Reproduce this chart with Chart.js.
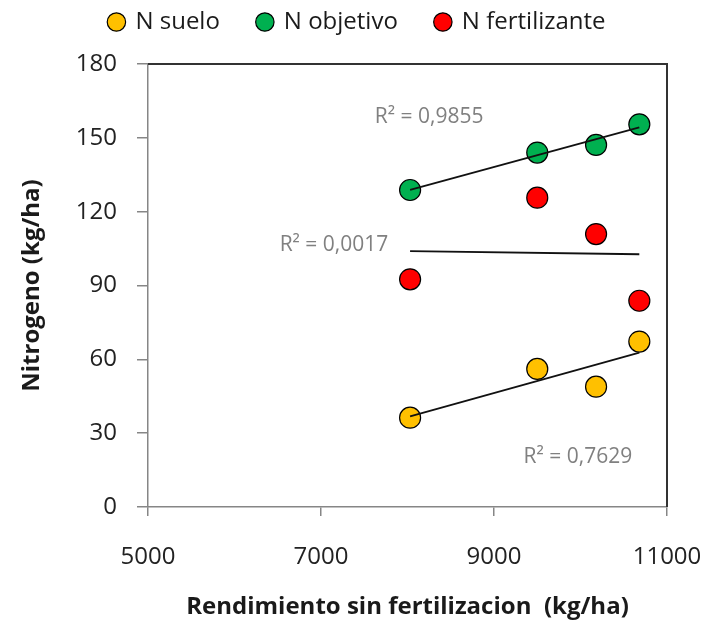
<!DOCTYPE html>
<html>
<head>
<meta charset="utf-8">
<script src="https://cdn.jsdelivr.net/npm/chart.js@4.4.1/dist/chart.umd.min.js"></script>
<style>
html, body { margin: 0; padding: 0; background: #fff; }
#wrap { width: 715px; height: 624px; }
</style>
</head>
<body>
<div id="wrap"><canvas id="chart"></canvas></div>
<script>
// datos
const rendimiento = [8030, 9500, 10180, 10680];
const nSuelo = [36.3, 56.1, 48.9, 67.2];
const nObjetivo = [128.8, 144.0, 147.1, 155.5];
const nFertilizante = [92.5, 125.7, 110.9, 83.8];
const seriesNames = ['N suelo', 'N objetivo', 'N fertilizante'];
const xTicks = [5000, 7000, 9000, 11000];
const yTicks = [0, 30, 60, 90, 120, 150, 180];
const r2Labels = ['R² = 0,7629', 'R² = 0,9855', 'R² = 0,0017'];

// donde van los textos R² (en unidades del grafico)
const r2Pos = [[9970, 20.2], [8250, 158.6], [7150, 106.5]];
const colores = ['#FFC000', '#00B050', '#FF0000'];

Chart.defaults.font.family = "'Open Sans', sans-serif";
Chart.defaults.color = '#1e1e1e';

const puntos = ys => rendimiento.map((x, i) => ({ x: x, y: ys[i] }));

// recta de tendencia lineal
function tendencia(ys) {
    const n = rendimiento.length;
    const mx = rendimiento.reduce((a, b) => a + b, 0) / n;
    const my = ys.reduce((a, b) => a + b, 0) / n;
    let sxy = 0, sxx = 0;
    rendimiento.forEach((x, i) => {
        sxy += (x - mx) * (ys[i] - my);
        sxx += (x - mx) * (x - mx);
    });
    const b = sxy / sxx;
    const x0 = Math.min(...rendimiento), x1 = Math.max(...rendimiento);
    return [{ x: x0, y: my + b * (x0 - mx) }, { x: x1, y: my + b * (x1 - mx) }];
}

const series = [nSuelo, nObjetivo, nFertilizante];
const datasets = [];
series.forEach((ys, i) => {
    datasets.push({
        label: seriesNames[i],
        data: puntos(ys),
        backgroundColor: colores[i],
        borderColor: '#000',
        borderWidth: 1.2,
        pointRadius: 10.5,
        order: 1
    });
});
series.forEach(ys => {
    datasets.push({
        type: 'line',
        data: tendencia(ys),
        borderColor: '#111',
        borderWidth: 1.8,
        pointRadius: 0,
        fill: false,
        order: 0
    });
});

// marco superior y derecho + textos R²
const extras = {
    id: 'extras',
    afterInit(chart) {
        const fit = chart.legend.fit;
        chart.legend.fit = function () {
            fit.call(this);
            this.height = 92;
        };
    },
    afterDatasetsDraw(chart) {
        const { ctx, chartArea: a, scales } = chart;
        ctx.save();
        ctx.strokeStyle = '#333';
        ctx.lineWidth = 2;
        ctx.beginPath();
        ctx.moveTo(a.left, a.top);
        ctx.lineTo(a.right, a.top);
        ctx.lineTo(a.right, a.bottom);
        ctx.stroke();
        ctx.fillStyle = '#808080';
        ctx.font = "21px 'Open Sans', sans-serif";
        ctx.textAlign = 'center';
        ctx.textBaseline = 'middle';
        r2Labels.forEach((t, i) => {
            ctx.fillText(t, scales.x.getPixelForValue(r2Pos[i][0]), scales.y.getPixelForValue(r2Pos[i][1]));
        });
        ctx.restore();
    }
};

new Chart(document.getElementById('chart'), {
    type: 'scatter',
    data: { datasets: datasets },
    plugins: [extras],
    options: {
        responsive: true,
        maintainAspectRatio: false,
        animation: false,
        layout: { padding: { top: -28, right: 0, bottom: 0, left: 0 } },
        plugins: {
            tooltip: { enabled: false },
            legend: {
                position: 'top',
                labels: {
                    filter: item => item.datasetIndex < 3,
                    usePointStyle: true,
                    pointStyle: 'circle',
                    boxWidth: 14,
                    boxHeight: 13,
                    padding: 38,
                    color: '#1a1a1a',
                    font: { size: 24 }
                }
            }
        },
        scales: {
            x: {
                type: 'linear',
                min: xTicks[0],
                max: xTicks[xTicks.length - 1],
                afterBuildTicks: s => { s.ticks = xTicks.map(v => ({ value: v })); },
                afterFit: s => {
                    s.height = 117;
                    s.paddingLeft = 0;
                    s.paddingRight = 48;
                },
                grid: { drawOnChartArea: false, tickLength: 9, color: '#868686', lineWidth: 1.5 },
                border: { color: '#868686', width: 1.5 },
                ticks: { padding: 27, font: { size: 24 }, color: '#222', callback: v => String(v) },
                title: {
                    display: true,
                    text: 'Rendimiento sin fertilizacion  (kg/ha)',
                    font: { size: 24, weight: 'bold' },
                    color: '#1a1a1a',
                    padding: { top: 0, bottom: 2 }
                }
            },
            y: {
                min: yTicks[0],
                max: yTicks[yTicks.length - 1],
                afterBuildTicks: s => { s.ticks = yTicks.map(v => ({ value: v })); },
                afterFit: s => { s.width = 148; },
                grid: { drawOnChartArea: false, tickLength: 11, color: '#868686', lineWidth: 1.5 },
                border: { color: '#868686', width: 1.5 },
                ticks: { padding: 20, font: { size: 24 }, color: '#222' },
                title: {
                    display: true,
                    text: 'Nitrogeno (kg/ha)',
                    font: { size: 24, weight: 'bold' },
                    color: '#1a1a1a',
                    padding: { top: 18, bottom: 0 }
                }
            }
        }
    }
});
</script>
</body>
</html>
